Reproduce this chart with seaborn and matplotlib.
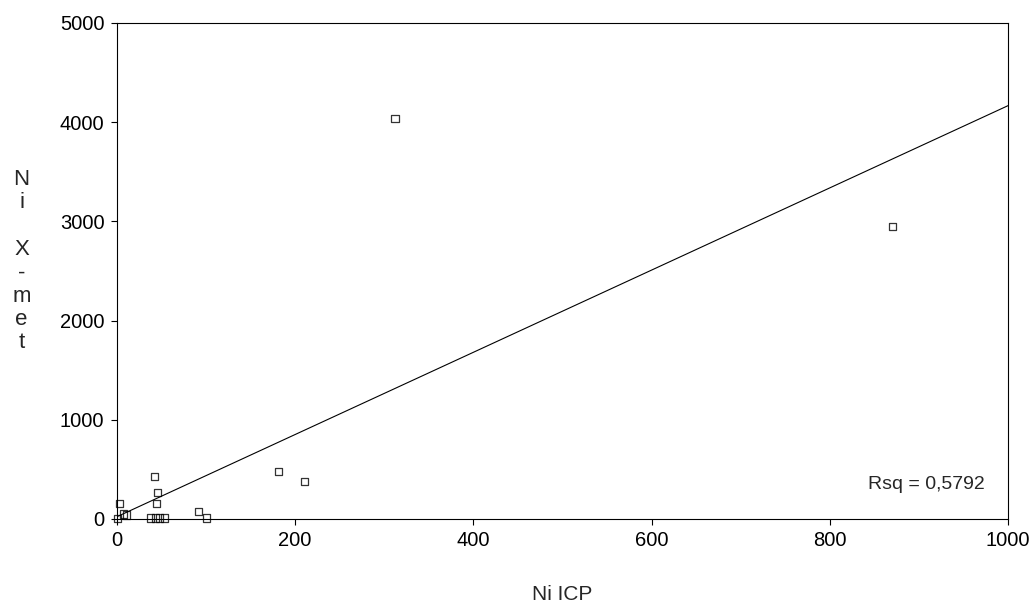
import matplotlib
matplotlib.use("Agg")
import matplotlib.pyplot as plt
import numpy as np
import pandas as pd
import seaborn as sns

ni_icp = [312, 870, 181, 210, 42, 46, 44, 3, 92, 7, 11, 38, 43, 48, 53, 100, 1]
ni_xmet = [4040, 2950, 480, 380, 430, 270, 160, 160, 80, 50, 40, 10, 10, 10, 10, 10, 5]
rsq_text = "Rsq = 0,5792"
x_ticks = [0, 200, 400, 600, 800, 1000]
y_ticks = [0, 1000, 2000, 3000, 4000, 5000]

data = pd.DataFrame({"icp": ni_icp, "xmet": ni_xmet})

sns.set_style("ticks")
plt.rcParams["font.family"] = ["Liberation Sans", "DejaVu Sans"]

fig = plt.figure(figsize=(10.35, 6.11), dpi=100)
ax = fig.add_axes([0.113, 0.1506, 0.861, 0.8118])
ax.set_xlim(0, 1000)
ax.set_ylim(0, 5000)

sns.regplot(data=data, x="icp", y="xmet", ax=ax, ci=None, truncate=False,
            marker="s",
            scatter_kws=dict(s=26, facecolors="none", edgecolors="black",
                             linewidths=0.9, clip_on=False),
            line_kws=dict(color="black", linewidth=0.8))

ax.set_xlim(0, 1000)
ax.set_ylim(0, 5000)
ax.set_xticks(x_ticks)
ax.set_yticks(y_ticks)
ax.tick_params(labelsize=14.5, direction="out", length=4, width=0.8, pad=5, colors="black")
for s in ax.spines.values():
    s.set_linewidth(0.8)
    s.set_color("black")

ax.set_xlabel("Ni ICP", fontsize=15, va="center")
ax.xaxis.set_label_coords(0.5, -0.153)
ax.set_ylabel("\n".join("Ni X-met"), fontsize=16, rotation=0, va="center",
              linespacing=1.15)
ax.yaxis.set_label_coords(-0.107, 0.52)
ax.text(0.974, 0.07, rsq_text, transform=ax.transAxes, ha="right", va="center",
        fontsize=14)

plt.savefig("out.png", dpi=100)
